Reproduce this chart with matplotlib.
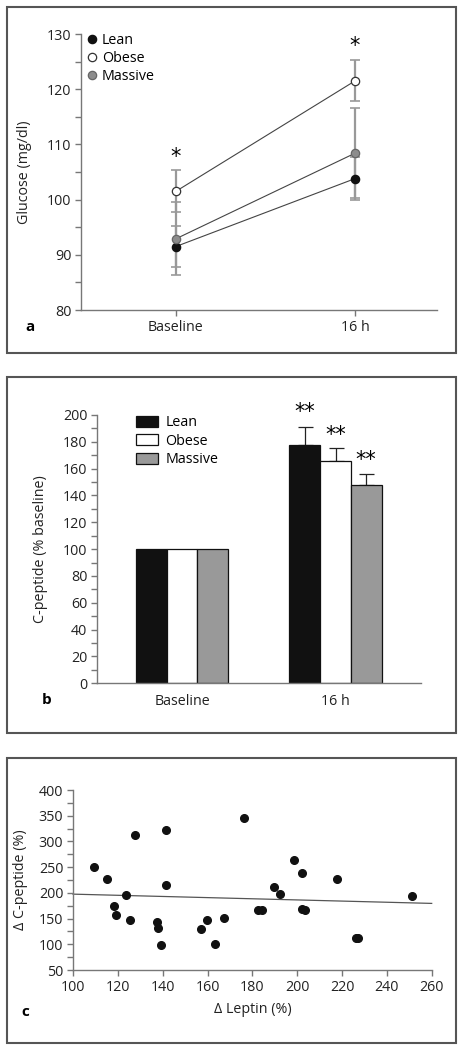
import matplotlib
matplotlib.use("Agg")
import matplotlib.pyplot as plt
from matplotlib.patches import Rectangle
from matplotlib.ticker import MultipleLocator
import numpy as np

plt.rcParams['font.family'] = ['Open Sans', 'DejaVu Sans']
plt.rcParams['font.size'] = 10.3

# ---------------- data ----------------
# Panel a: glucose
times = ["Baseline", "16 h"]
groups = ["Lean", "Obese", "Massive"]
glu_lean = [91.5, 103.8]
glu_lean_err = [3.7, 3.9]
glu_obese = [101.5, 121.5]
glu_obese_err = [3.8, 3.7]
glu_massive = [92.9, 108.4]
glu_massive_err = [6.6, 8.2]
glu_star_y = [107.8, 127.8]
glu_star_text = ["*", "*"]

# Panel b: C-peptide % baseline
cpep_lean = [100, 177.9]
cpep_obese = [100, 165.7]
cpep_massive = [100, 148.1]
cpep_lean_err = [0, 13.4]
cpep_obese_err = [0, 10.0]
cpep_massive_err = [0, 7.9]
cpep_star_y = [202.5, 185.0, 166.5]
cpep_star_text = ["**", "**", "**"]

# Panel c: scatter
leptin = [109.5, 115.2, 118.5, 119.1, 123.8, 125.3, 127.5, 137.4, 138.0, 139.1,
          141.4, 141.4, 157.0, 159.7, 163.3, 167.4, 176.1, 182.3, 184.4, 189.6,
          192.4, 198.5, 202.1, 202.1, 203.4, 217.9, 226.1, 227.3, 251.1]
cpeptide = [250.9, 226.3, 174.5, 157.6, 195.8, 146.6, 311.9, 142.7, 131.0, 98.6,
            322.2, 215.3, 130.4, 146.6, 101.2, 150.5, 344.9, 167.3, 166.0, 210.8,
            197.8, 264.5, 238.6, 168.0, 166.0, 227.6, 111.6, 111.6, 193.9]
fit_x = [100, 260]
fit_y = [197.5, 179.5]

# ---------------- figure ----------------
W, H = 464, 1050
fig = plt.figure(figsize=(W / 100, H / 100), dpi=100)
FS = 10.3


def ax_px(left, right, top, bottom):
    return fig.add_axes([left / W, 1 - bottom / H, (right - left) / W, (bottom - top) / H])


def border(top, bottom, left=7, right=456):
    fig.patches.append(Rectangle((left / W, 1 - bottom / H), (right - left) / W, (bottom - top) / H,
                                 transform=fig.transFigure, fill=False, edgecolor='#555555',
                                 linewidth=1.5))


border(7, 353)
border(377, 733)
border(758, 1043)

spine_c = '#777777'


def style(ax):
    for s in ['top', 'right']:
        ax.spines[s].set_visible(False)
    for s in ['left', 'bottom']:
        ax.spines[s].set_color(spine_c)
        ax.spines[s].set_linewidth(1.0)
    ax.tick_params(which='both', color=spine_c, width=1.0, direction='out')
    ax.tick_params(which='major', length=4, pad=3, labelsize=FS, labelcolor='#222222')
    ax.tick_params(which='minor', length=4)


# ---- panel a ----
axa = ax_px(81, 437, 34, 310)
style(axa)
x = np.arange(len(times))
ecol = '#999999'
for vals, errs in [(glu_lean, glu_lean_err), (glu_obese, glu_obese_err), (glu_massive, glu_massive_err)]:
    axa.errorbar(x, vals, yerr=errs, fmt='none', ecolor=ecol, elinewidth=1.6, capsize=3.6,
                 capthick=1.2, zorder=1)
styles = [('#111111', '#111111'), ('white', '#333333'), ('#8c8c8c', '#666666')]
for vals, (fc, ec), lab in zip([glu_lean, glu_obese, glu_massive], styles, groups):
    axa.plot(x, vals, '-', color='#444444', lw=0.8, zorder=2)
    axa.plot(x, vals, 'o', ms=6, mfc=fc, mec=ec, mew=0.9, zorder=3, label=lab, linestyle='none')
for xi, yi, t in zip(x, glu_star_y, glu_star_text):
    axa.text(xi, yi, t, ha='center', va='center', fontsize=15, family='DejaVu Sans')
axa.set_xlim(-0.53, 1.458)
axa.set_ylim(80, 130)
axa.yaxis.set_major_locator(MultipleLocator(10))
axa.yaxis.set_minor_locator(MultipleLocator(5))
axa.set_xticks(x)
axa.set_xticklabels(times)
axa.tick_params(axis='x', pad=3.5)
axa.set_ylabel("Glucose (mg/dl)", fontsize=FS, color='#222222')
axa.yaxis.set_label_coords(-0.138, 0.5)
axa.legend(loc='upper left', bbox_to_anchor=(0.018, 1.004), frameon=False, handlelength=0.6,
           handletextpad=0.4, labelspacing=0.22, fontsize=FS, borderaxespad=0, borderpad=0)

# ---- panel b ----
axb = ax_px(97, 421, 415, 683.3)
style(axb)
bw = 0.2
bcols = ['#111111', 'white', '#999999']
for i, (vals, errs, lab, c) in enumerate(zip([cpep_lean, cpep_obese, cpep_massive],
                                          [cpep_lean_err, cpep_obese_err, cpep_massive_err],
                                          groups, bcols)):
    xpos = x + (i - 1) * bw
    axb.bar(xpos, vals, width=bw, color=c, edgecolor='#111111', linewidth=0.9, label=lab, zorder=2)
    axb.errorbar(xpos[1:], vals[1:], yerr=[[0] * len(errs[1:]), errs[1:]], fmt='none',
                 ecolor='#222222', elinewidth=0.9, capsize=5.4, capthick=0.9, zorder=1)
    axb.text(xpos[1], cpep_star_y[i], cpep_star_text[i], ha='center', va='center',
             fontsize=15, family='DejaVu Sans')
axb.set_xlim(-0.554, 1.557)
axb.set_ylim(0, 200)
axb.yaxis.set_major_locator(MultipleLocator(20))
axb.yaxis.set_minor_locator(MultipleLocator(10))
axb.set_xticks(x)
axb.set_xticklabels(times)
axb.tick_params(axis='x', length=0, pad=8)
axb.set_ylabel("C-peptide (% baseline)", fontsize=FS, color='#222222')
axb.yaxis.set_label_coords(-0.151, 0.5)
axb.legend(loc='upper left', bbox_to_anchor=(0.12, 1.0), frameon=False, handlelength=1.55,
           handleheight=0.8, handletextpad=0.5, labelspacing=0.25, fontsize=FS, borderaxespad=0,
           borderpad=0)

# ---- panel c ----
axc = ax_px(73, 431.7, 790, 970)
style(axc)
axc.plot(fit_x, fit_y, '-', color='#555555', lw=0.9, zorder=1, clip_on=False)
axc.plot(leptin, cpeptide, 'o', ms=5.5, color='#111111', linestyle='none', zorder=2)
axc.set_xlim(100, 260)
axc.set_ylim(50, 400)
axc.xaxis.set_major_locator(MultipleLocator(20))
axc.yaxis.set_major_locator(MultipleLocator(50))
axc.yaxis.set_minor_locator(MultipleLocator(25))
axc.set_xlabel("\u0394 Leptin (%)", fontsize=FS, color='#222222')
axc.xaxis.set_label_coords(0.5, -0.222)
axc.xaxis.label.set_va('center')
axc.set_ylabel("\u0394 C-peptide (%)", fontsize=FS, color='#222222')
axc.yaxis.set_label_coords(-0.1255, 0.5)

# panel letters
for lt, (px, py) in zip(['a', 'b', 'c'], [(30, 327), (47, 700), (25, 1012)]):
    fig.text(px / W, 1 - py / H, lt, ha='center', va='center', fontsize=11, fontweight='bold')

fig.savefig("out.png", dpi=100)
